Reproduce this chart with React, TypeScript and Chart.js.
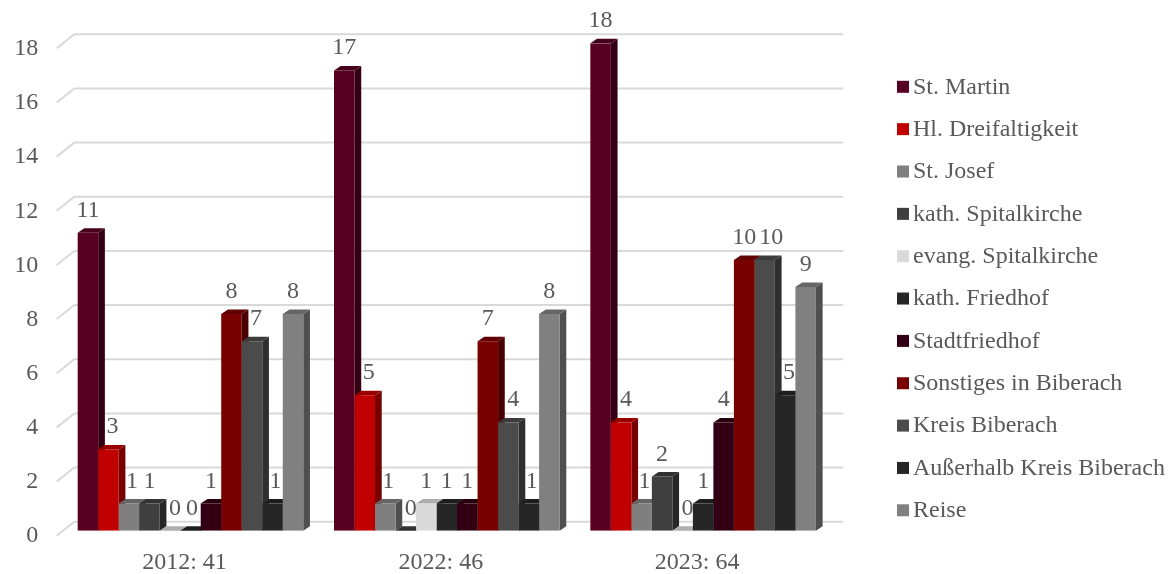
import React, { useEffect, useRef } from 'react';
import { Chart, registerables } from 'chart.js';

Chart.register(...registerables);

const categories = ['2012: 41', '2022: 46', '2023: 64'];

const seriesNames = [
  'St. Martin',
  'Hl. Dreifaltigkeit',
  'St. Josef',
  'kath. Spitalkirche',
  'evang. Spitalkirche',
  'kath. Friedhof',
  'Stadtfriedhof',
  'Sonstiges in Biberach',
  'Kreis Biberach',
  'Außerhalb Kreis Biberach',
  'Reise',
];

const stMartin = [11, 17, 18];
const hlDreifaltigkeit = [3, 5, 4];
const stJosef = [1, 1, 1];
const kathSpitalkirche = [1, 0, 2];
const evangSpitalkirche = [0, 1, 0];
const kathFriedhof = [0, 1, 1];
const stadtfriedhof = [1, 1, 4];
const sonstigesInBiberach = [8, 7, 10];
const kreisBiberach = [7, 4, 10];
const ausserhalbKreisBiberach = [1, 1, 5];
const reise = [8, 8, 9];

const seriesValues = [
  stMartin,
  hlDreifaltigkeit,
  stJosef,
  kathSpitalkirche,
  evangSpitalkirche,
  kathFriedhof,
  stadtfriedhof,
  sonstigesInBiberach,
  kreisBiberach,
  ausserhalbKreisBiberach,
  reise,
];

const seriesColors = [
  '#570021',
  '#c00000',
  '#7f7f7f',
  '#3f3f3f',
  '#d9d9d9',
  '#262626',
  '#320012',
  '#780000',
  '#4b4b4b',
  '#262626',
  '#808080',
];

const yMin = 0;
const yMax = 18;
const yStep = 2;

const FONT = { family: "'Liberation Serif', 'Times New Roman', serif", size: 24 };
const TEXT_COLOR = '#595959';
const GRID_COLOR = '#d9d9d9';

const DX = 6.7;
const DY = 4.5;
const LABEL_GAP = 2.5;

function shade(hex: string, f: number): string {
  const h = hex.replace('#', '');
  const r = Math.round(parseInt(h.slice(0, 2), 16) * f);
  const g = Math.round(parseInt(h.slice(2, 4), 16) * f);
  const b = Math.round(parseInt(h.slice(4, 6), 16) * f);
  return `rgb(${r},${g},${b})`;
}

const depthPlugin = {
  id: 'depth3d',
  beforeDatasetsDraw(chart: any) {
    const { ctx, chartArea } = chart;
    const yScale = chart.scales.y;
    ctx.save();
    ctx.strokeStyle = GRID_COLOR;
    ctx.lineWidth = 2;
    yScale.ticks.forEach((t: any) => {
      const py = yScale.getPixelForValue(t.value);
      ctx.beginPath();
      ctx.moveTo(chartArea.left - 5.6, py + 5);
      ctx.lineTo(chartArea.left + 12, py - 9);
      ctx.lineTo(chartArea.right + 12, py - 9);
      ctx.stroke();
    });
    chart.data.datasets.forEach((ds: any, di: number) => {
      const meta = chart.getDatasetMeta(di);
      const color = seriesColors[di];
      meta.data.forEach((bar: any) => {
        const { x, y, base, width } = bar.getProps(['x', 'y', 'base', 'width'], true);
        const l = x - width / 2;
        const r = x + width / 2;
        ctx.fillStyle = shade(color, 0.62);
        ctx.beginPath();
        ctx.moveTo(r, y);
        ctx.lineTo(r + DX, y - DY);
        ctx.lineTo(r + DX, base - DY);
        ctx.lineTo(r, base);
        ctx.closePath();
        ctx.fill();
        ctx.fillStyle = shade(color, 0.8);
        ctx.beginPath();
        ctx.moveTo(l, y);
        ctx.lineTo(l + DX, y - DY);
        ctx.lineTo(r + DX, y - DY);
        ctx.lineTo(r, y);
        ctx.closePath();
        ctx.fill();
      });
    });
    ctx.restore();
  },
  afterDatasetsDraw(chart: any) {
    const { ctx } = chart;
    ctx.save();
    ctx.font = `${FONT.size}px ${FONT.family}`;
    ctx.fillStyle = TEXT_COLOR;
    ctx.textAlign = 'center';
    ctx.textBaseline = 'alphabetic';
    const nCat = categories.length;
    for (let ci = 0; ci < nCat; ci++) {
      let prevLabel: { left: number; right: number; top: number; bottom: number } | null = null;
      let prevBar: any = null;
      chart.data.datasets.forEach((ds: any, di: number) => {
        const bar = chart.getDatasetMeta(di).data[ci];
        const { x, y, width } = bar.getProps(['x', 'y', 'width'], true);
        const text = String(ds.data[ci]);
        const m = ctx.measureText(text);
        const baseY = y - 16;
        let cx = x;
        const inkTop = baseY - m.actualBoundingBoxAscent;
        const inkBottom = baseY + m.actualBoundingBoxDescent;
        let inkLeft = cx - m.actualBoundingBoxLeft;
        if (prevBar) {
          const prevTop = prevBar.y - DY;
          const prevSideRight = prevBar.x + prevBar.width / 2 + DX;
          if (prevTop < inkBottom && inkLeft < prevSideRight + LABEL_GAP) {
            cx += prevSideRight + LABEL_GAP - inkLeft;
            inkLeft = cx - m.actualBoundingBoxLeft;
          }
        }
        if (prevLabel && prevLabel.top < inkBottom && prevLabel.bottom > inkTop && inkLeft < prevLabel.right + 5) {
          cx += prevLabel.right + 5 - inkLeft;
          inkLeft = cx - m.actualBoundingBoxLeft;
        }
        ctx.fillText(text, cx, baseY);
        prevLabel = { left: inkLeft, right: cx + m.actualBoundingBoxRight, top: inkTop, bottom: inkBottom };
        prevBar = { x, y, width };
      });
    }
    ctx.restore();
  },
  afterDraw(chart: any) {
    const { ctx } = chart;
    ctx.save();
    ctx.font = `${FONT.size}px ${FONT.family}`;
    ctx.textAlign = 'left';
    ctx.textBaseline = 'middle';
    seriesNames.forEach((name, i) => {
      const cy = 86.8 + i * 42.35;
      ctx.fillStyle = seriesColors[i];
      ctx.fillRect(897, cy - 6, 12, 12);
      ctx.fillStyle = TEXT_COLOR;
      ctx.fillText(name, 913, cy + 0.5);
    });
    ctx.restore();
  },
};

export default function App() {
  const canvasRef = useRef<HTMLCanvasElement | null>(null);

  useEffect(() => {
    const canvas = canvasRef.current;
    if (!canvas) return;
    const chart = new Chart(canvas, {
      type: 'bar',
      data: {
        labels: categories,
        datasets: seriesNames.map((name, i) => ({
          label: name,
          data: seriesValues[i],
          backgroundColor: seriesColors[i],
          borderWidth: 0,
          categoryPercentage: 0.88,
          barPercentage: 1,
        })),
      },
      options: {
        animation: false,
        responsive: false,
        devicePixelRatio: 1,
        layout: { padding: { left: 0, right: 340.7, top: 43.3, bottom: 0 } },
        plugins: {
          legend: { display: false },
          tooltip: { enabled: false },
        },
        scales: {
          x: {
            grid: { display: false, drawTicks: false },
            border: { display: false },
            ticks: {
              font: FONT,
              color: TEXT_COLOR,
              padding: 17.4,
              labelOffset: -6,
              maxRotation: 0,
            },
            afterFit: (s: any) => {
              s.height = 43.3;
            },
          },
          y: {
            min: yMin,
            max: yMax,
            grid: { display: false, drawTicks: false },
            border: { display: false },
            ticks: {
              stepSize: yStep,
              font: FONT,
              color: TEXT_COLOR,
              padding: 24,
              labelOffset: 5.5,
            },
            afterFit: (s: any) => {
              s.width = 62.3;
            },
          },
        },
      },
      plugins: [depthPlugin],
    } as any);
    return () => chart.destroy();
  }, []);

  return (
    <div style={{ position: 'absolute', left: 0, top: 0, width: 1172, height: 574, background: '#ffffff' }}>
      <canvas ref={canvasRef} width={1172} height={574} style={{ display: 'block', width: 1172, height: 574 }} />
    </div>
  );
}
